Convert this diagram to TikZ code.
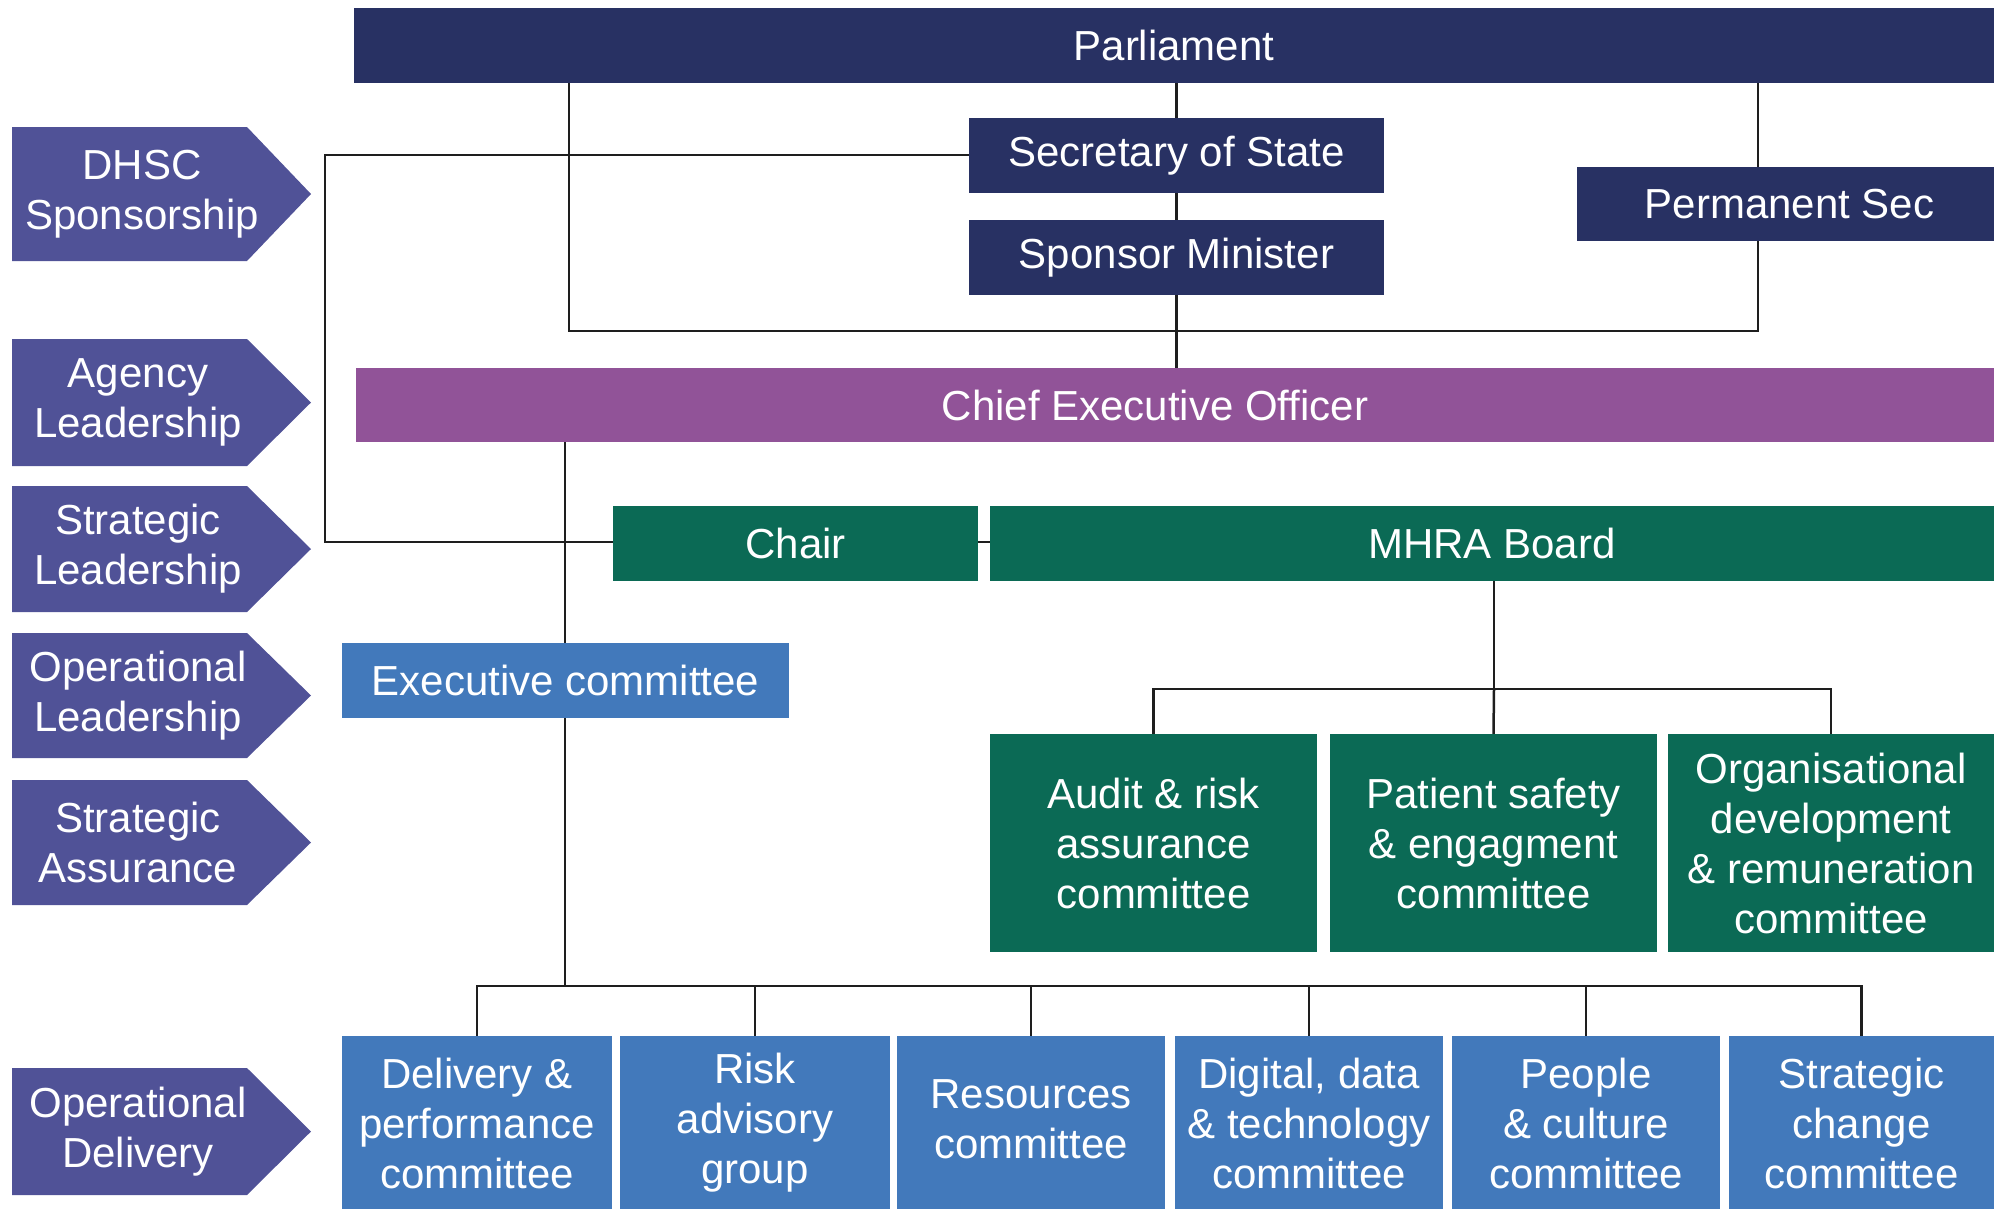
\documentclass[tikz,border=0pt]{standalone}
\usepackage{fontspec}
\setmainfont{Liberation Sans}

\definecolor{navy}{RGB}{40,49,99}
\definecolor{tabpurple}{RGB}{80,82,151}
\definecolor{ceopurple}{RGB}{145,83,152}
\definecolor{boardgreen}{RGB}{11,106,85}
\definecolor{execblue}{RGB}{66,121,187}
\definecolor{linkgray}{RGB}{30,30,30}

\newcommand\boxfont{\fontsize{42}{50}\selectfont}

% side tab: top y, bottom y, name, text, text centre x
\newcommand\sidetab[5]{%
  \fill[tabpurple] (12,#1) -- (247,#1) -- (311,{(#1+#2)/2}) -- (247,#2) -- (12,#2) -- cycle;
  \node[tabtext] (#3) at (#5,{(#1+#2)/2}) {#4};
}

% filled box from corners: style, x1, y1, x2, y2, name, text
\newcommand\orgbox[7]{%
  \node[box, #1, minimum width={(#4)-(#2)}, minimum height={(#5)-(#3)}]
    (#6) at ({((#2)+(#4))/2},{((#3)+(#5))/2}) {#7};
}

\tikzset{
  box/.style={rectangle, inner sep=0pt, draw=none, text=white, align=center, font=\boxfont},
  tabtext/.style={inner sep=0pt, text=white, align=center, font=\boxfont},
  link/.style={draw=linkgray, line width=2.5pt},
}

\begin{document}
\begin{tikzpicture}[x=1pt,y=-1pt]
\useasboundingbox (0,0) rectangle (2002,1208);

% side tabs
\sidetab{127}{261}{tdhsc}{DHSC\\Sponsorship}{142}
\sidetab{339}{466}{tagency}{Agency\\Leadership}{138}
\sidetab{486}{612}{tstrat}{Strategic\\Leadership}{138}
\sidetab{633}{758}{toplead}{Operational\\Leadership}{138}
\sidetab{780}{905}{tassur}{Strategic\\Assurance}{138}
\sidetab{1068}{1195}{tdeliv}{Operational\\Delivery}{138}

% government tier
\orgbox{fill=navy}{354}{8}{1994}{83}{parl}{Parliament}
\orgbox{fill=navy}{969}{118}{1384}{193}{sos}{Secretary of State}
\orgbox{fill=navy}{969}{220}{1384}{295}{spm}{Sponsor Minister}
\orgbox{fill=navy}{1577}{167}{1994}{241}{perm}{\hspace*{8pt}Permanent Sec}

% agency tier
\orgbox{fill=ceopurple}{356}{368}{1994}{442}{ceo}{\hspace*{-40pt}Chief Executive Officer}
\orgbox{fill=boardgreen}{613}{506}{978}{581}{chair}{Chair}
\orgbox{fill=boardgreen}{990}{506}{1994}{581}{board}{MHRA Board}
\orgbox{fill=execblue}{342}{643}{789}{718}{exec}{Executive committee}

% board committees
\orgbox{fill=boardgreen}{990}{734}{1317}{952}{audit}{Audit \& risk\\assurance\\committee}
\orgbox{fill=boardgreen}{1330}{734}{1657}{952}{patient}{Patient safety\\\& engagment\\committee}
\orgbox{fill=boardgreen}{1668}{734}{1994}{952}{orgdev}{Organisational\\development\\\& remuneration\\committee}

% executive committees
\orgbox{fill=execblue}{342}{1036}{612}{1210}{deliv}{Delivery \&\\performance\\committee}
\orgbox{fill=execblue}{620}{1036}{890}{1210}{risk}{Risk\\advisory\\group}
\orgbox{fill=execblue}{897}{1036}{1165}{1210}{res}{\raisebox{6pt}{\begin{tabular}{@{}c@{}}Resources\\committee\end{tabular}}}
\orgbox{fill=execblue}{1175}{1036}{1443}{1210}{digital}{Digital, data\\\& technology\\committee}
\orgbox{fill=execblue}{1452}{1036}{1720}{1210}{people}{People\\\& culture\\committee}
\orgbox{fill=execblue}{1729}{1036}{1994}{1210}{change}{Strategic\\change\\committee}

% junction points
\coordinate (govbusL) at (569,331);
\coordinate (govbusR) at (1758,331);
\coordinate (sponsL) at (325,155);
\coordinate (sponsB) at (325,542);
\coordinate (boardbus) at (1494,689);
\coordinate (execbus) at (565,986);

% government connectors
\draw[link] (parl.south -| govbusL) -- (govbusL) -- (govbusR) -- (perm.south -| govbusR);
\draw[link] (parl.south -| govbusR) -- (perm.north -| govbusR);
\draw[link] (parl.south -| sos.north) -- (sos.north);
\draw[link] (sos.south) -- (spm.north);
\draw[link] (spm.south) -- (spm.south |- ceo.north);
\draw[link] (sos.west |- sponsL) -- (sponsL) -- (sponsB) -- (chair.west |- sponsB);

% agency connectors
\draw[link] (ceo.south -| execbus) -- (exec.north -| execbus);
\draw[link] (chair.east |- sponsB) -- (board.west |- sponsB);

% board committees
\draw[link] (board.south -| boardbus) -- (boardbus);
\draw[link] (audit.north) -- (audit.north |- boardbus) -- (orgdev.north |- boardbus) -- (orgdev.north);
\draw[link] (boardbus) -- (patient.north);

% executive committees
\draw[link] (exec.south -| execbus) -- (execbus);
\draw[link] (deliv.north) -- (deliv.north |- execbus) -- (change.north |- execbus) -- (change.north);
\foreach \c in {risk,res,digital,people}
  \draw[link] (\c.north) -- (\c.north |- execbus);
\end{tikzpicture}
\end{document}
